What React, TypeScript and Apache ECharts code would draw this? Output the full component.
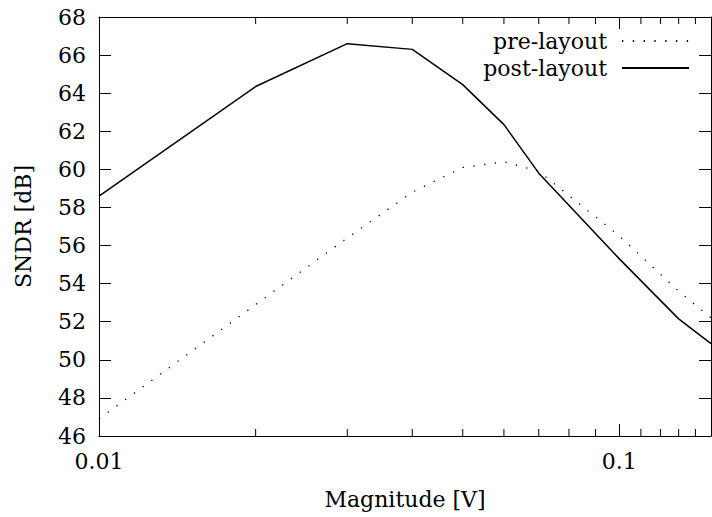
import React, { useEffect, useRef } from "react";
import * as echarts from "echarts";

const magnitudes = [0.01, 0.02, 0.03, 0.04, 0.05, 0.06, 0.07, 0.1, 0.13, 0.15];
const preLayout = [46.9, 52.9, 56.4, 58.8, 60.1, 60.4, 59.9, 56.5, 53.6, 52.2];
const postLayout = [58.6, 64.35, 66.6, 66.3, 64.45, 62.35, 59.8, 55.3, 52.15, 50.85];
const minorTicks = [0.02, 0.03, 0.04, 0.05, 0.06, 0.07, 0.08, 0.09, 0.11, 0.12, 0.13, 0.14];
const seriesNames = ["pre-layout", "post-layout"];
const xName = "Magnitude [V]";
const yName = "SNDR [dB]";
const yMin = 46;
const yMax = 68;
const yStep = 2;
const xMin = 0.01;
const xMax = 0.15;

const FONT = "DejaVu Serif";

export default function App() {
  const ref = useRef<HTMLDivElement>(null);
  useEffect(() => {
    if (!ref.current) return;
    const chart = echarts.init(ref.current, null, { renderer: "svg" });
    const fmtLog = (v: number) => {
      const l = Math.log10(v);
      return Math.abs(l - Math.round(l)) < 1e-6 ? String(+v.toPrecision(3)) : "";
    };
    const baseX = {
      type: "log" as const,
      logBase: 10,
      min: xMin,
      max: xMax,
      splitLine: { show: false },
      axisLine: { show: true, lineStyle: { color: "#000", width: 1 } },
      axisTick: { show: true, inside: true, length: 12, lineStyle: { color: "#000" } },
    };
    const baseY = {
      type: "value" as const,
      min: yMin,
      max: yMax,
      interval: yStep,
      splitLine: { show: false },
      axisLine: { show: true, lineStyle: { color: "#000", width: 1 } },
      axisTick: { show: true, inside: true, length: 12, lineStyle: { color: "#000" } },
    };
    chart.setOption({
      animation: false,
      backgroundColor: "#fff",
      textStyle: { fontFamily: FONT, color: "#000" },
      grid: { left: 99, right: 1, top: 17, bottom: 81, containLabel: false },
      legend: {
        data: seriesNames,
        orient: "vertical",
        align: "right",
        right: 22,
        top: 30,
        padding: 0,
        itemGap: 5,
        itemWidth: 67,
        itemHeight: 14,
        selectedMode: false,
        itemStyle: { opacity: 0 },
        textStyle: {
          fontFamily: FONT,
          fontSize: 22,
          color: "#000",
          lineHeight: 22,
          padding: [0, 10, 0, 0],
        },
      },
      xAxis: [
        {
          ...baseX,
          position: "bottom",
          name: xName,
          nameLocation: "middle",
          nameGap: 52,
          nameTextStyle: { fontFamily: FONT, fontSize: 22, color: "#000" },
          axisLabel: {
            show: true,
            fontFamily: FONT,
            fontSize: 22,
            color: "#000",
            margin: 14,
            showMaxLabel: false,
            formatter: fmtLog,
          },
        },
        {
          ...baseX,
          position: "top",
          axisLabel: { show: false },
        },
      ],
      yAxis: [
        {
          ...baseY,
          position: "left",
          name: yName,
          nameLocation: "middle",
          nameGap: 65,
          nameRotate: 90,
          nameTextStyle: { fontFamily: FONT, fontSize: 22, color: "#000" },
          axisLabel: { show: true, fontFamily: FONT, fontSize: 22, color: "#000", margin: 13 },
        },
        {
          ...baseY,
          position: "right",
          axisLabel: { show: false },
        },
      ],
      series: [
        {
          name: seriesNames[0],
          type: "line",
          xAxisIndex: 0,
          yAxisIndex: 0,
          data: magnitudes.map((m, i) => [m, preLayout[i]]),
          symbol: "none",
          lineStyle: { color: "#000", width: 1.3, type: [1.3, 9.5] },
          itemStyle: { color: "#000" },
        },
        {
          name: seriesNames[1],
          type: "line",
          xAxisIndex: 0,
          yAxisIndex: 0,
          data: magnitudes.map((m, i) => [m, postLayout[i]]),
          symbol: "none",
          lineStyle: { color: "#000", width: 1.5, type: "solid" },
          itemStyle: { color: "#000" },
        },
        {
          name: "minor-ticks",
          type: "custom",
          xAxisIndex: 0,
          yAxisIndex: 0,
          silent: true,
          data: minorTicks.map((t) => [t, yMin]),
          renderItem: (params: any, api: any) => {
            const cs = params.coordSys;
            const x = api.coord([api.value(0), yMin])[0];
            const style = { stroke: "#000", lineWidth: 1 };
            return {
              type: "group",
              children: [
                {
                  type: "line",
                  shape: { x1: x, y1: cs.y + cs.height, x2: x, y2: cs.y + cs.height - 7 },
                  style,
                },
                {
                  type: "line",
                  shape: { x1: x, y1: cs.y, x2: x, y2: cs.y + 7 },
                  style,
                },
              ],
            };
          },
        },
      ],
    });
    return () => chart.dispose();
  }, []);
  return <div ref={ref} style={{ width: 712, height: 517, position: "absolute", left: 0, top: 0 }} />;
}
